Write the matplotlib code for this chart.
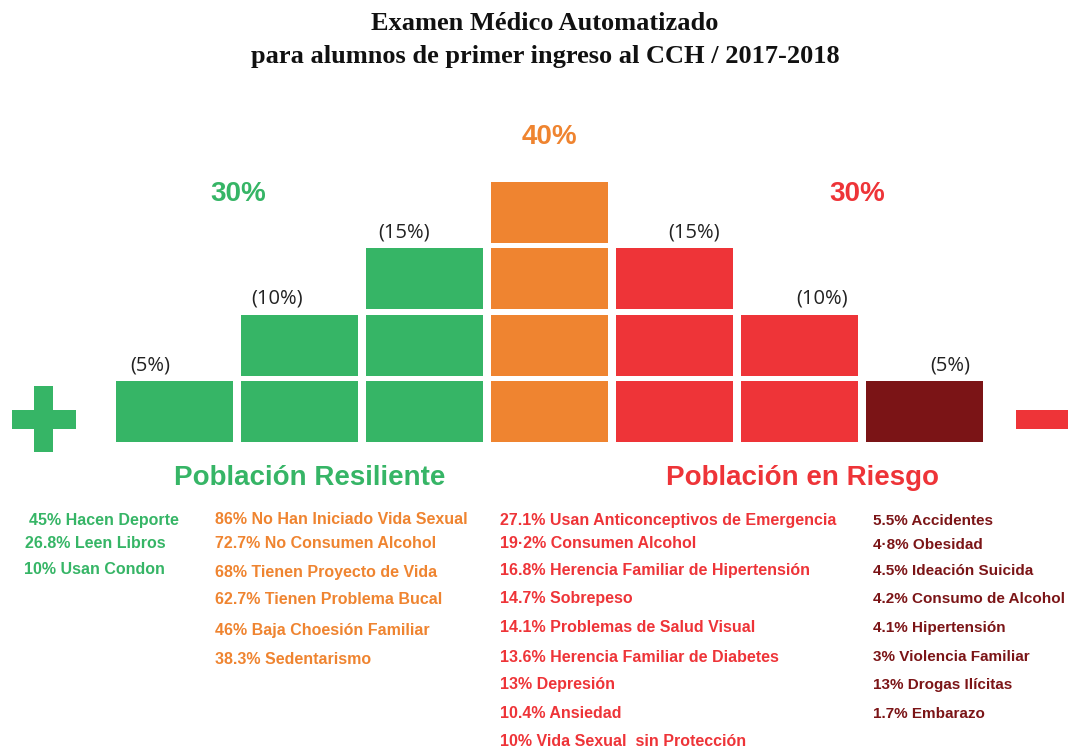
import matplotlib
matplotlib.use("Agg")
import matplotlib.pyplot as plt

# ---------------- data ----------------
title_lines = ["Examen Médico Automatizado",
               "para alumnos de primer ingreso al CCH / 2017-2018"]
block_counts = [1, 2, 3, 4, 3, 2, 1]
block_labels = ["(5%)", "(10%)", "(15%)", "40%", "(15%)", "(10%)", "(5%)"]
group_labels = ["30%", "30%"]
group_names = ["Población Resiliente", "Población en Riesgo"]

green_items = ["45% Hacen Deporte", "26.8% Leen Libros", "10% Usan Condon"]
orange_items = ["86% No Han Iniciado Vida Sexual", "72.7% No Consumen Alcohol",
                "68% Tienen Proyecto de Vida", "62.7% Tienen Problema Bucal",
                "46% Baja Choesión Familiar", "38.3% Sedentarismo"]
red_items = ["27.1% Usan Anticonceptivos de Emergencia", "19·2% Consumen Alcohol",
             "16.8% Herencia Familiar de Hipertensión", "14.7% Sobrepeso",
             "14.1% Problemas de Salud Visual", "13.6% Herencia Familiar de Diabetes",
             "13% Depresión", "10.4% Ansiedad", "10% Vida Sexual  sin Protección"]
darkred_items = ["5.5% Accidentes", "4·8% Obesidad", "4.5% Ideación Suicida",
                 "4.2% Consumo de Alcohol", "4.1% Hipertensión", "3% Violencia Familiar",
                 "13% Drogas Ilícitas", "1.7% Embarazo"]

# ---------------- style / layout ----------------
GREEN = "#36B566"
ORANGE = "#EF8430"
RED = "#EE3438"
DARK = "#7B1416"
col_colors = [GREEN, GREEN, GREEN, ORANGE, RED, RED, DARK]
label_dx = [-24, -22, -20, 0, 20, 23, 26]

col_left0 = 116
col_w = 117
col_step = 125
row_h = 61
row_step = 66.5
base_bottom = 442

fig = plt.figure(figsize=(10.68, 7.48), dpi=100)
ax = fig.add_axes([0, 0, 1, 1])
ax.set_xlim(0, 1068)
ax.set_ylim(748, 0)
ax.axis("off")

SANS = ["Liberation Sans", "DejaVu Sans"]
SERIF = ["Liberation Serif", "DejaVu Serif"]

# title
ax.text(545, 23, title_lines[0], ha="center", va="center", fontsize=19,
        fontweight="bold", family=SERIF, color="#111111")
ax.text(545, 56, title_lines[1], ha="center", va="center", fontsize=19,
        fontweight="bold", family=SERIF, color="#111111")

# blocks
for i, (n, c) in enumerate(zip(block_counts, col_colors)):
    xc = col_left0 + i * col_step + col_w / 2
    for r in range(n):
        top = base_bottom - row_h - r * row_step
        ax.bar(xc, row_h, width=col_w, bottom=top, color=c, edgecolor="none")
    top_y = base_bottom - row_h - (n - 1) * row_step
    lab = block_labels[i]
    if lab.startswith("("):
        ax.text(xc + label_dx[i], top_y - 16, lab, ha="center", va="center",
                fontsize=14.5, color="#222222", family=["Open Sans", "DejaVu Sans"])
    else:
        ax.text(xc, top_y - 45, lab, ha="center", va="center", fontsize=20,
                fontweight="bold", color=c, family=SANS)

# group percentages
ax.text(238, 194, group_labels[0], ha="center", va="center", fontsize=20,
        fontweight="bold", color=GREEN, family=SANS)
ax.text(857, 194, group_labels[1], ha="center", va="center", fontsize=20,
        fontweight="bold", color=RED, family=SANS)

# plus and minus signs
ax.bar(44, 19, width=64, bottom=410, color=GREEN, edgecolor="none")
ax.bar(43.5, 66, width=19, bottom=386, color=GREEN, edgecolor="none")
ax.bar(1046, 19, width=60, bottom=410, color=RED, edgecolor="none")

# group names
ax.text(310, 478, group_names[0], ha="center", va="center", fontsize=20,
        fontweight="bold", color=GREEN, family=SANS)
ax.text(802, 478, group_names[1], ha="center", va="center", fontsize=20,
        fontweight="bold", color=RED, family=SANS)

# lists
green_x = [29, 25, 24]
green_y = [520, 543, 570]
orange_y = [519, 543, 573, 600, 630, 659]
red_y = [521, 544, 571, 599, 628, 657, 685, 714, 742]
dark_y = [521, 545, 571, 599, 628, 657, 685, 714]

fs = 11.5
for t, x, y in zip(green_items, green_x, green_y):
    ax.text(x, y, t, ha="left", va="center", fontsize=fs, fontweight="bold",
            color=GREEN, family=SANS)
for t, y in zip(orange_items, orange_y):
    ax.text(215, y, t, ha="left", va="center", fontsize=fs, fontweight="bold",
            color=ORANGE, family=SANS)
for t, y in zip(red_items, red_y):
    ax.text(500, y, t, ha="left", va="center", fontsize=fs, fontweight="bold",
            color=RED, family=SANS)
for t, y in zip(darkred_items, dark_y):
    ax.text(873, y, t, ha="left", va="center", fontsize=11.0, fontweight="bold",
            color=DARK, family=SANS)

fig.savefig("out.png", dpi=100)
